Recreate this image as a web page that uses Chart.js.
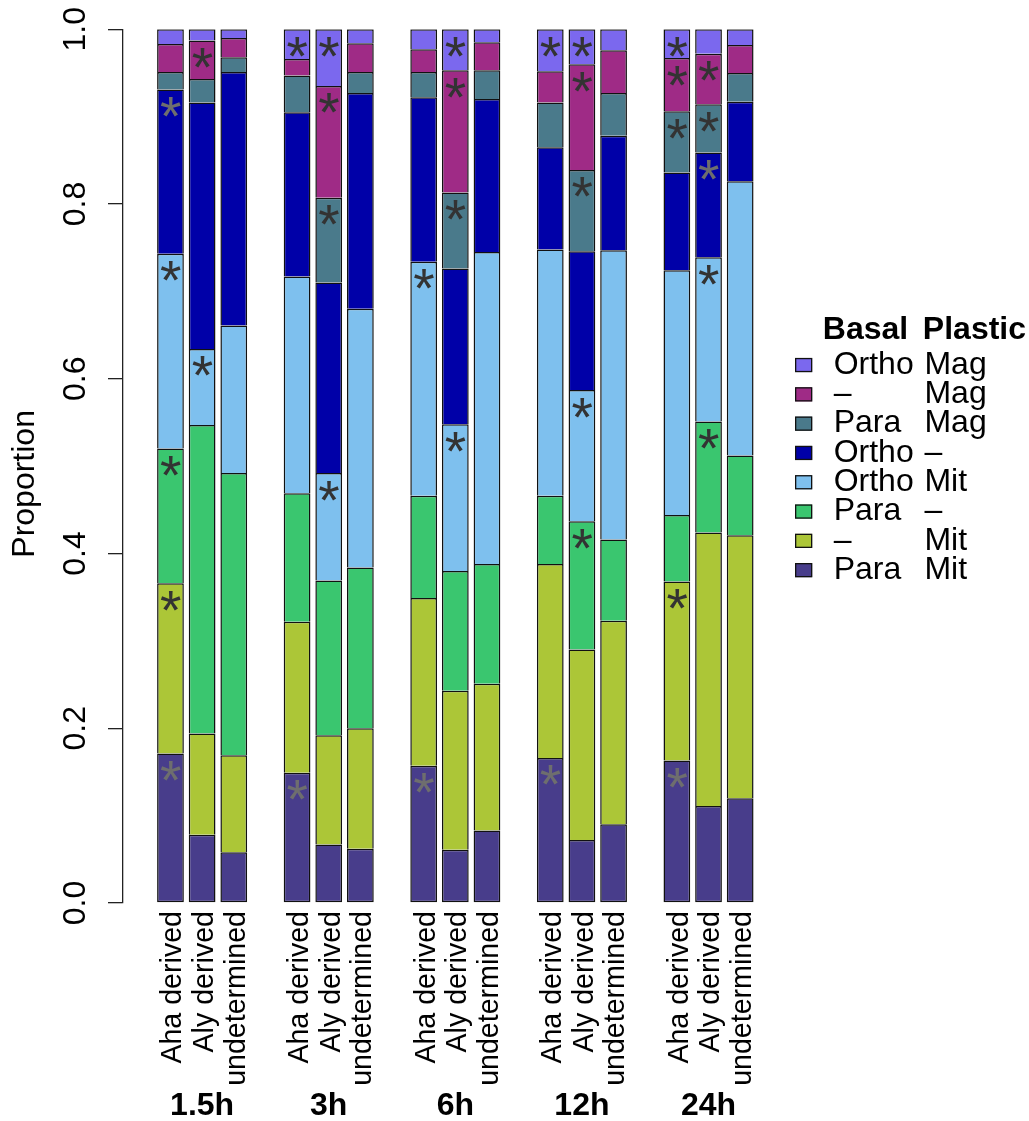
<!DOCTYPE html>
<html>
<head>
<meta charset="utf-8">
<script src="https://cdn.jsdelivr.net/npm/chart.js@4.4.1/dist/chart.umd.min.js"></script>
<style>
html,body{margin:0;padding:0;background:#fff;overflow:hidden}
canvas{display:block}
</style>
</head>
<body>
<canvas id="c" width="1029" height="1121"></canvas>
<script>
// ---------- data ----------
const timePoints  = ['1.5h', '3h', '6h', '12h', '24h'];
const sampleTypes = ['Aha derived', 'Aly derived', 'undetermined'];

// series in stacking order, bottom -> top
const seriesBasal   = ['Para', '–',   'Para', 'Ortho', 'Ortho', 'Para', '–',   'Ortho'];
const seriesPlastic = ['Mit',  'Mit', '–',    'Mit',   '–',     'Mag',  'Mag', 'Mag'];
const seriesColors  = ['#483D8B', '#ACC637', '#3AC66F', '#7EC0EE', '#0000A8', '#4A7A8B', '#9F2B86', '#7B68EE'];

// proportions, 15 bars: (1.5h, 3h, 6h, 12h, 24h) x (Aha derived, Aly derived, undetermined)
const paraMit   = [0.171, 0.078, 0.058,  0.149, 0.067, 0.062,  0.157, 0.061, 0.083,  0.166, 0.072, 0.090,  0.163, 0.111, 0.120];
const noneMit   = [0.195, 0.116, 0.111,  0.173, 0.125, 0.138,  0.192, 0.182, 0.168,  0.222, 0.218, 0.233,  0.205, 0.313, 0.301];
const paraNone  = [0.154, 0.353, 0.323,  0.147, 0.177, 0.184,  0.117, 0.137, 0.137,  0.078, 0.147, 0.093,  0.076, 0.127, 0.091];
const orthoMit  = [0.223, 0.087, 0.169,  0.248, 0.123, 0.296,  0.268, 0.168, 0.357,  0.282, 0.150, 0.331,  0.280, 0.188, 0.314];
const orthoNone = [0.188, 0.282, 0.290,  0.188, 0.218, 0.247,  0.188, 0.178, 0.175,  0.117, 0.159, 0.131,  0.112, 0.120, 0.091];
const paraMag   = [0.020, 0.027, 0.017,  0.042, 0.097, 0.024,  0.029, 0.087, 0.033,  0.051, 0.093, 0.049,  0.070, 0.055, 0.033];
const noneMag   = [0.032, 0.044, 0.022,  0.019, 0.128, 0.033,  0.026, 0.140, 0.032,  0.036, 0.121, 0.049,  0.061, 0.058, 0.032];
const orthoMag  = [0.017, 0.013, 0.010,  0.034, 0.065, 0.016,  0.023, 0.047, 0.015,  0.048, 0.040, 0.024,  0.033, 0.028, 0.018];
const seriesValues = [paraMit, noneMit, paraNone, orthoMit, orthoNone, paraMag, noneMag, orthoMag];

// significance markers per segment: 0 none, 1 dark asterisk, 2 grey asterisk
const sigParaMit   = [2,0,0, 2,0,0, 2,0,0, 2,0,0, 2,0,0];
const sigNoneMit   = [1,0,0, 0,0,0, 0,0,0, 0,0,0, 1,0,0];
const sigParaNone  = [1,0,0, 0,0,0, 0,0,0, 0,1,0, 0,1,0];
const sigOrthoMit  = [1,1,0, 0,1,0, 1,1,0, 0,1,0, 0,1,0];
const sigOrthoNone = [2,0,0, 0,0,0, 0,0,0, 0,0,0, 0,2,0];
const sigParaMag   = [0,0,0, 0,1,0, 0,1,0, 0,1,0, 1,1,0];
const sigNoneMag   = [0,1,0, 0,1,0, 0,1,0, 0,1,0, 1,1,0];
const sigOrthoMag  = [0,0,0, 1,1,0, 0,1,0, 1,1,0, 1,0,0];
const seriesSig = [sigParaMit, sigNoneMit, sigParaNone, sigOrthoMit, sigOrthoNone, sigParaMag, sigNoneMag, sigOrthoMag];

// ---------- category layout (one empty slot between groups, as in barplot with NA columns) ----------
const xLabels = [''];
const groupAxisLabels = [''];
const slotOf = [];
timePoints.forEach((t, g) => {
  if (g > 0) { xLabels.push(''); groupAxisLabels.push(''); }
  sampleTypes.forEach((s, k) => {
    slotOf.push(xLabels.length);
    xLabels.push(s);
    groupAxisLabels.push(k === 1 ? t : '');
  });
});
xLabels.push(''); groupAxisLabels.push('');
function expand(arr) {
  const out = new Array(xLabels.length).fill(null);
  arr.forEach((v, i) => { out[slotOf[i]] = v; });
  return out;
}

const FONT = '"Liberation Sans", Arial, Helvetica, sans-serif';
Chart.defaults.font.family = FONT;
Chart.defaults.color = '#000';

// ---------- plugins ----------
const asteriskPlugin = {
  id: 'asterisks',
  afterDatasetsDraw(chart) {
    const ctx = chart.ctx;
    const ys = chart.scales.y;
    const off = ys.getPixelForValue(0) - ys.getPixelForValue(0.02);
    ctx.save();
    ctx.font = '55px ' + FONT;
    ctx.textAlign = 'left';
    ctx.textBaseline = 'alphabetic';
    const m = ctx.measureText('*');
    const midX = (m.actualBoundingBoxRight - m.actualBoundingBoxLeft) / 2;
    const midY = (m.actualBoundingBoxDescent - m.actualBoundingBoxAscent) / 2;
    seriesSig.forEach((flags, i) => {
      const meta = chart.getDatasetMeta(i);
      flags.forEach((f, j) => {
        if (!f) return;
        const el = meta.data[slotOf[j]];
        ctx.fillStyle = f === 2 ? '#6e6e6e' : '#333333';
        ctx.fillText('*', el.x - midX, el.y + off - midY);
      });
    });
    ctx.restore();
  }
};

const legendPlugin = {
  id: 'basalPlasticLegend',
  afterDraw(chart) {
    const ctx = chart.ctx, ca = chart.chartArea;
    const n = chart.data.datasets.length;
    const boxX = ca.right + 7.5, boxW = 17, boxH = 14, rowH = 29.3;
    const midY = (ca.top + ca.bottom) / 2 + 1.5;
    const firstY = midY - (n - 1) / 2 * rowH;
    ctx.save();
    ctx.textAlign = 'left';
    ctx.textBaseline = 'middle';
    ctx.fillStyle = '#000';
    ctx.font = 'bold 32px ' + FONT;
    ctx.fillText('Basal', boxX + 27.7, firstY - 34.5);
    ctx.fillText('Plastic', boxX + 127.7, firstY - 34.5);
    ctx.font = '32px ' + FONT;
    for (let r = 0; r < n; r++) {
      const i = n - 1 - r;
      const ds = chart.data.datasets[i];
      const cy = firstY + r * rowH;
      ctx.fillStyle = ds.backgroundColor;
      ctx.fillRect(boxX, cy - boxH / 2, boxW, boxH);
      ctx.strokeStyle = '#111';
      ctx.lineWidth = 1.3;
      ctx.strokeRect(boxX + 0.5, cy - boxH / 2 + 0.5, boxW - 1, boxH - 1);
      ctx.fillStyle = '#000';
      ctx.fillText(seriesBasal[i], boxX + 38.5, cy);
      ctx.fillText(seriesPlastic[i], boxX + 129.3, cy);
    }
    ctx.restore();
  }
};

// ---------- chart ----------
new Chart(document.getElementById('c'), {
  type: 'bar',
  data: {
    labels: xLabels,
    datasets: seriesValues.map((vals, i) => ({
      label: seriesBasal[i] + ' ' + seriesPlastic[i],
      data: expand(vals),
      backgroundColor: seriesColors[i],
      borderColor: '#111111',
      borderWidth: i === 0 ? 1.5 : { top: 1.5, left: 1.5, right: 1.5, bottom: 0 },
      borderSkipped: false,
      barPercentage: 0.845,
      categoryPercentage: 1
    }))
  },
  options: {
    responsive: false,
    animation: false,
    devicePixelRatio: 1,
    layout: { padding: { top: 29, right: 1029 - 787.65, bottom: 0, left: 0 } },
    plugins: { legend: { display: false }, tooltip: { enabled: false } },
    scales: {
      x: {
        stacked: true, offset: true, weight: 0,
        grid: { display: false, drawTicks: false },
        border: { display: false },
        ticks: { autoSkip: false, minRotation: 90, maxRotation: 90, padding: 8, labelOffset: 3,
                 font: { size: 28.6 }, color: '#000' },
        afterFit: s => { s.height = 187; }
      },
      x2: {
        type: 'category', labels: groupAxisLabels, position: 'bottom', offset: true, weight: 1,
        grid: { display: false, drawTicks: false },
        border: { display: false },
        ticks: { autoSkip: false, minRotation: 0, maxRotation: 0, padding: 0,
                 font: { size: 32, weight: 'bold', lineHeight: 1 }, color: '#000' },
        afterFit: s => { s.height = 31; }
      },
      y: {
        stacked: true, min: 0, max: 1,
        ticks: { stepSize: 0.2, minRotation: 90, maxRotation: 90, crossAlign: 'center', padding: 10,
                 font: { size: 32 }, color: '#000', callback: v => Number(v).toFixed(1) },
        grid: { drawOnChartArea: false, drawTicks: true, tickLength: 15, tickColor: '#222', lineWidth: 1.3 },
        border: { display: true, color: '#222', width: 1.3 },
        title: { display: true, text: 'Proportion    ', font: { size: 32 }, color: '#000', padding: { top: 6, bottom: 0 } },
        afterFit: s => { s.width = 123; }
      }
    }
  },
  plugins: [asteriskPlugin, legendPlugin]
});
</script>
</body>
</html>
